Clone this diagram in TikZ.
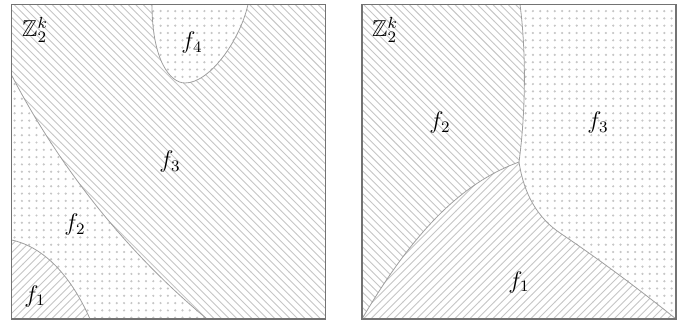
\documentclass[tikz,border=0pt]{standalone}
\usepackage{amssymb}
\usetikzlibrary{patterns}
\pgfdeclarepatternformonly{mydots}{\pgfqpoint{-1pt}{-1pt}}{\pgfqpoint{1pt}{1pt}}{\pgfqpoint{3.65pt}{3.65pt}}{%
  \pgfpathcircle{\pgfqpoint{0pt}{0pt}}{0.62pt}\pgfusepath{fill}}
\pgfdeclarepatternformonly{mynw}{\pgfqpoint{-1pt}{-1pt}}{\pgfqpoint{5pt}{5pt}}{\pgfqpoint{3.8pt}{3.8pt}}{%
  \pgfsetlinewidth{0.45pt}\pgfpathmoveto{\pgfqpoint{0pt}{3.8pt}}\pgfpathlineto{\pgfqpoint{3.9pt}{-0.1pt}}\pgfusepath{stroke}}
\pgfdeclarepatternformonly{myne}{\pgfqpoint{-1pt}{-1pt}}{\pgfqpoint{5pt}{5pt}}{\pgfqpoint{3.8pt}{3.8pt}}{%
  \pgfsetlinewidth{0.45pt}\pgfpathmoveto{\pgfqpoint{0pt}{0pt}}\pgfpathlineto{\pgfqpoint{3.9pt}{3.9pt}}\pgfusepath{stroke}}
\tikzset{
  nwfill/.style={pattern=mynw, pattern color=gray!45},
  nefill/.style={pattern=myne, pattern color=gray!45},
  dotfill/.style={pattern=mydots, pattern color=gray!45},
  border/.style={draw=gray!75, line width=0.4pt},
  frame/.style={draw=gray!90!black, line width=0.7pt},
  lbl/.style={inner sep=0pt, font=\fontsize{11.5}{13}\selectfont},
}
\begin{document}
\begin{tikzpicture}[x=0.5pt, y=-0.5pt]
\useasboundingbox (0,0) rectangle (683,325);
% ---------- left panel ----------
% f3
\fill[nwfill] (11.5,4.5) -- (152,4.5) .. controls (152,60) and (170,83) .. (185,83)
  .. controls (210,83) and (240,40) .. (248,4.5) -- (325.5,4.5) -- (325.5,319) -- (207,319)
  .. controls (100,230) and (40,130) .. (11.5,75) -- cycle;
% f4
\fill[dotfill] (152,4.5) .. controls (152,60) and (170,83) .. (185,83)
  .. controls (210,83) and (240,40) .. (248,4.5) -- cycle;
% f2
\fill[dotfill] (11.5,75) .. controls (40,130) and (100,230) .. (207,319) -- (90,319)
  .. controls (72,278) and (45,247) .. (11.5,240) -- cycle;
% f1
\fill[nefill] (11.5,240) .. controls (45,247) and (72,278) .. (90,319) -- (11.5,319) -- cycle;
% boundaries
\draw[border] (152,4.5) .. controls (152,60) and (170,83) .. (185,83)
  .. controls (210,83) and (240,40) .. (248,4.5);
\draw[border] (11.5,75) .. controls (40,130) and (100,230) .. (207,319);
\draw[border] (11.5,240) .. controls (45,247) and (72,278) .. (90,319);
\draw[frame] (11.5,4.5) rectangle (325.5,319);
\node[lbl] (zl) at (35,30) {$\mathbb{Z}_2^k$};
\node[lbl] (lf4) at (192,43) {$f_4$};
\node[lbl] (lf3) at (170,162) {$f_3$};
\node[lbl] (lf2) at (75,225) {$f_2$};
\node[lbl] (lf1) at (35,296) {$f_1$};
% ---------- right panel ----------
\coordinate (T) at (519,162);
% f2
\fill[nwfill] (362,4.5) -- (520,4.5) .. controls (526,50) and (526,110) .. (T)
  .. controls (470,180) and (420,220) .. (362,319) -- cycle;
% f3
\fill[dotfill] (520,4.5) -- (676,4.5) -- (676,319) .. controls (640,290) and (600,260) .. (560,233)
  .. controls (538,218) and (524,195) .. (T) .. controls (526,110) and (526,50) .. (520,4.5) -- cycle;
% f1
\fill[nefill] (362,319) .. controls (420,220) and (470,180) .. (T)
  .. controls (524,195) and (538,218) .. (560,233) .. controls (600,260) and (640,290) .. (676,319) -- cycle;
% boundaries
\draw[border] (520,4.5) .. controls (526,50) and (526,110) .. (T);
\draw[border] (T) .. controls (470,180) and (420,220) .. (362,319);
\draw[border] (T) .. controls (524,195) and (538,218) .. (560,233) .. controls (600,260) and (640,290) .. (676,319);
\draw[frame] (362,4.5) rectangle (676,319);
\node[lbl] (zr) at (385,30) {$\mathbb{Z}_2^k$};
\node[lbl] (rf2) at (440,123) {$f_2$};
\node[lbl] (rf3) at (598,123) {$f_3$};
\node[lbl] (rf1) at (519,282) {$f_1$};
\end{tikzpicture}
\end{document}
